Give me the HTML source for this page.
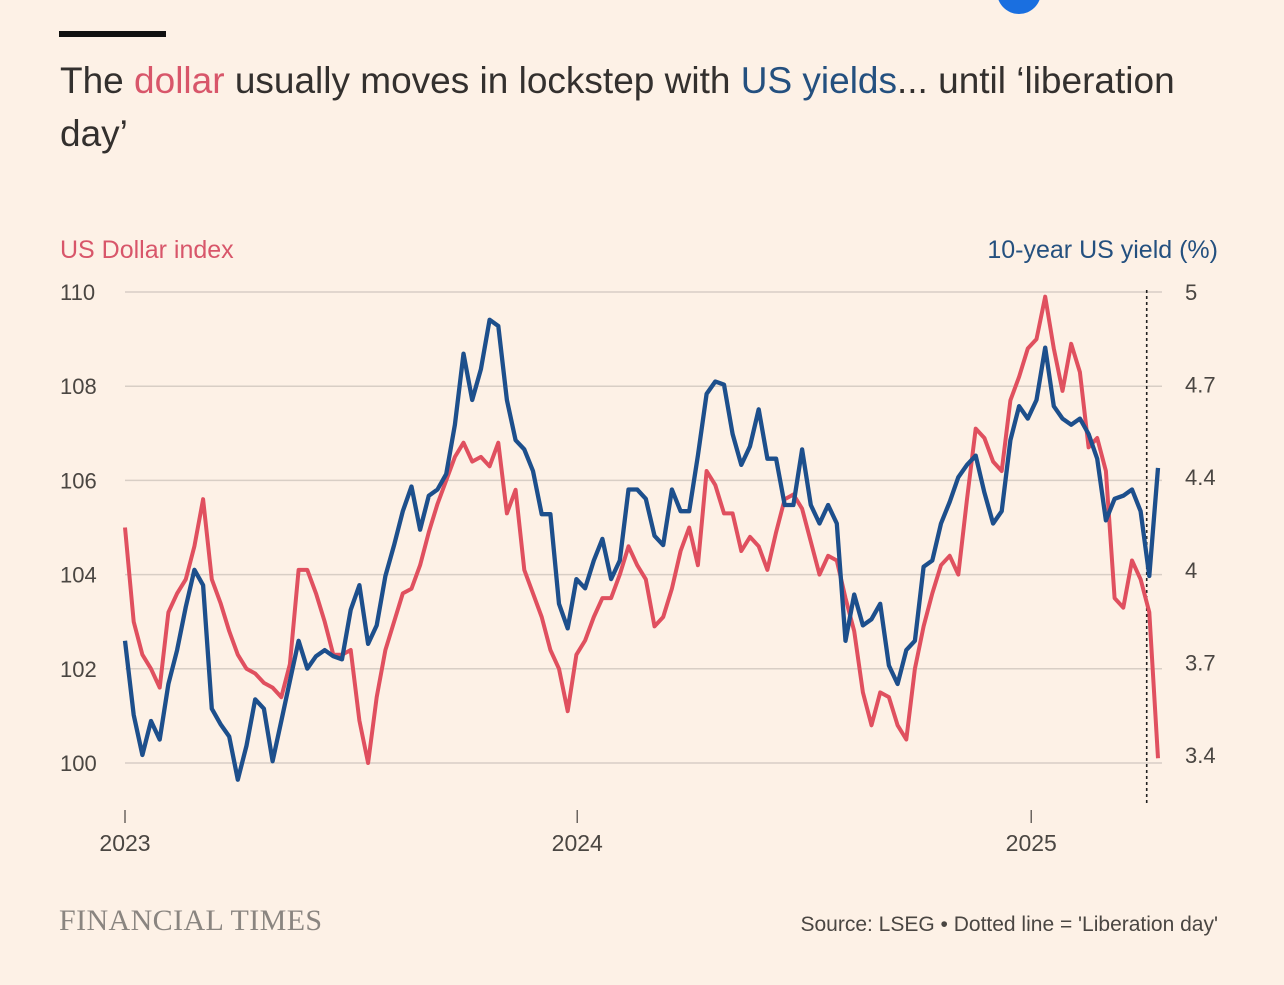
<!DOCTYPE html>
<html><head><meta charset="utf-8">
<style>
html,body{margin:0;padding:0;background:#fdf1e6;}
body{width:1284px;height:985px;position:relative;overflow:hidden;font-family:"Liberation Sans",sans-serif;}
.t{position:absolute;white-space:nowrap;}
</style></head>
<body>
<div style="position:absolute;left:997px;top:-30px;width:44px;height:44px;border-radius:50%;background:#1a6fe0;"></div>
<div style="position:absolute;left:59px;top:31px;width:107px;height:6px;background:#111;"></div>
<div class="t" style="left:60px;top:54px;font-size:37px;line-height:53px;color:#33302e;">The <span style="color:#d8566a">dollar</span> usually moves in lockstep with <span style="color:#24507f">US yields</span>... until ‘liberation<br>day’</div>
<svg id="chart" width="1284" height="985" style="position:absolute;left:0;top:0;"></svg>
<div class="t" style="left:59px;top:904px;font-family:'Liberation Serif',serif;font-size:30px;color:#8a8580;letter-spacing:0.4px;">FINANCIAL TIMES</div>
<div class="t" style="right:66px;top:913px;font-size:21px;color:#4a4642;">Source: LSEG • Dotted line = 'Liberation day'</div>
<script>
const dollar=[105.0,103.0,102.3,102.0,101.6,103.2,103.6,103.9,104.6,105.6,103.9,103.4,102.8,102.3,102.0,101.9,101.7,101.6,101.4,102.1,104.1,104.1,103.6,103.0,102.3,102.3,102.4,100.9,100.0,101.4,102.4,103.0,103.6,103.7,104.2,104.9,105.5,106.0,106.5,106.8,106.4,106.5,106.3,106.8,105.3,105.8,104.1,103.6,103.1,102.4,102.0,101.1,102.3,102.6,103.1,103.5,103.5,104.0,104.6,104.2,103.9,102.9,103.1,103.7,104.5,105.0,104.2,106.2,105.9,105.3,105.3,104.5,104.8,104.6,104.1,104.9,105.6,105.7,105.4,104.7,104.0,104.4,104.3,103.5,102.8,101.5,100.8,101.5,101.4,100.8,100.5,102.0,102.9,103.6,104.2,104.4,104.0,105.6,107.1,106.9,106.4,106.2,107.7,108.2,108.8,109.0,109.9,108.8,107.9,108.9,108.3,106.7,106.9,106.2,103.5,103.3,104.3,103.9,103.2,100.1];
const yields=[3.87,3.63,3.50,3.61,3.55,3.73,3.84,3.98,4.10,4.05,3.65,3.60,3.56,3.42,3.53,3.68,3.65,3.48,3.61,3.74,3.87,3.78,3.82,3.84,3.82,3.81,3.97,4.05,3.86,3.92,4.08,4.18,4.29,4.37,4.23,4.34,4.36,4.41,4.57,4.80,4.65,4.75,4.91,4.89,4.65,4.52,4.49,4.42,4.28,4.28,3.99,3.91,4.07,4.04,4.13,4.20,4.07,4.13,4.36,4.36,4.33,4.21,4.18,4.36,4.29,4.29,4.47,4.67,4.71,4.70,4.54,4.44,4.50,4.62,4.46,4.46,4.31,4.31,4.49,4.31,4.25,4.31,4.25,3.87,4.02,3.92,3.94,3.99,3.79,3.73,3.84,3.87,4.11,4.13,4.25,4.32,4.40,4.44,4.47,4.35,4.25,4.29,4.52,4.63,4.59,4.65,4.82,4.63,4.59,4.57,4.59,4.54,4.46,4.26,4.33,4.34,4.36,4.29,4.08,4.43];
const leftTicks=[110,108,106,104,102,100];
const rightTickValues=[5,4.7,4.4,4.1,3.8,3.5];
const rightTickLabels=["5","4.7","4.4","4","3.7","3.4"];
const yearTicks=[0,52.1,104.4];
const yearLabels=["2023","2024","2025"];
const liberationWeek=117.7;

const svg=document.getElementById('chart');
const NS='http://www.w3.org/2000/svg';
const X0=125,X1=1158,NW=119;
const xs=w=>X0+(X1-X0)*w/NW;
const yL=v=>292+(110-v)*(763-292)/10;
const yR=v=>292+(5-v)*(755-292)/1.5;
function mk(tag,attrs,parent){const e=document.createElementNS(NS,tag);for(const k in attrs)e.setAttribute(k,attrs[k]);(parent||svg).appendChild(e);return e;}
const txtStyle='font-family:"Liberation Sans",sans-serif';

let e;
e=mk('text',{x:60,y:258,'font-size':25,fill:'#d8566a',style:txtStyle});e.textContent='US Dollar index';


e=mk('text',{x:1218,y:258,'font-size':25,fill:'#24507f','text-anchor':'end',style:txtStyle});e.textContent='10-year US yield (%)';



leftTicks.forEach((v,i)=>{
  const y=yL(v);
  const g=mk('line',{x1:125,x2:1162,y1:y,y2:y,stroke:'#d8cec5','stroke-width':1.5});
  
  
  const t=mk('text',{x:60,y:y+8,'font-size':22,fill:'#4a4642',style:txtStyle});t.textContent=v;
  
  
});
rightTickValues.forEach((v,i)=>{
  const t=mk('text',{x:1185,y:yR(v)+8,'font-size':22,fill:'#4a4642',style:txtStyle});t.textContent=rightTickLabels[i];
  
  
});
yearTicks.forEach((w,i)=>{
  const x=xs(w);
  const l=mk('line',{x1:x,x2:x,y1:810,y2:823,stroke:'#6b6560','stroke-width':1.5});
  
  
  const t=mk('text',{x:x,y:851,'font-size':23,fill:'#4a4642','text-anchor':'middle',style:txtStyle});t.textContent=yearLabels[i];
  
  
});
const lx=xs(liberationWeek);
e=mk('line',{x1:lx,x2:lx,y1:290,y2:806,stroke:'#222','stroke-width':1.6,'stroke-dasharray':'3,3'});



function path(arr,yf){return arr.map((v,i)=>(i?'L':'M')+xs(i).toFixed(1)+','+yf(v).toFixed(1)).join('');}
e=mk('path',{d:path(dollar,yL),fill:'none',stroke:'#e0505f','stroke-width':4,'stroke-linejoin':'round'});


e=mk('path',{d:path(yields,yR),fill:'none',stroke:'#1d4f8c','stroke-width':4.3,'stroke-linejoin':'round'});


</script>
</body></html>
